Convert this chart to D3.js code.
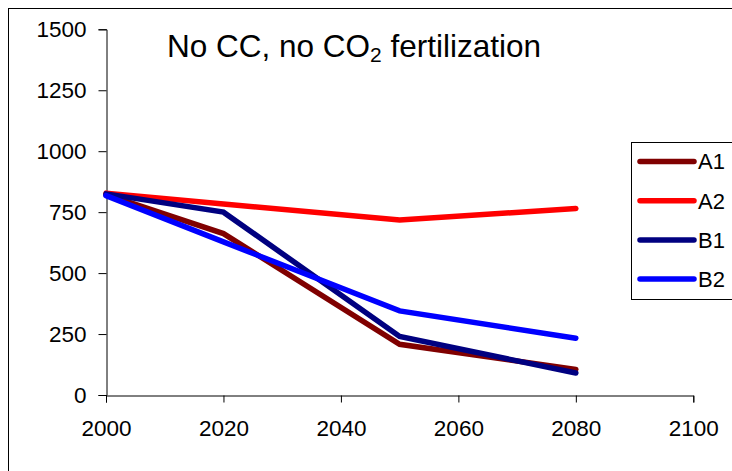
<!DOCTYPE html>
<html>
<head>
<meta charset="utf-8">
<script src="https://cdn.jsdelivr.net/npm/d3@7"></script>
<style>
  html, body { margin: 0; padding: 0; background: #fff; }
  svg { display: block; }
  text { font-family: "Liberation Sans", Arial, sans-serif; fill: #000; }
</style>
</head>
<body>
<svg id="chart" width="732" height="471"></svg>
<script>
const years = [2000, 2020, 2050, 2080];
const seriesNames = ["A1", "A2", "B1", "B2"];
const seriesColors = ["#800000", "#ff0000", "#000080", "#0000ff"];
const A1 = [822, 662, 208, 105];
const A2 = [828, 783, 718, 765];
const B1 = [825, 750, 240, 90];
const B2 = [818, 628, 345, 233];
const xTicks = [2000, 2020, 2040, 2060, 2080, 2100];
const yTicks = [0, 250, 500, 750, 1000, 1250, 1500];
const title = "No CC, no CO";
const titleSub = "2";
const titleEnd = " fertilization";

const svg = d3.select("#chart");
const x = d3.scaleLinear().domain([2000, 2100]).range([106, 693.3]);
const y = d3.scaleLinear().domain([0, 1500]).range([395, 29.3]);

// outer frame
svg.append("rect").attr("x", 8.5).attr("y", 8.5).attr("width", 800).attr("height", 600)
  .attr("fill", "none").attr("stroke", "#000").attr("stroke-width", 1);

// y axis
const yAxis = svg.append("g").attr("transform", "translate(106.5,0)")
  .call(d3.axisLeft(y).tickValues(yTicks).tickSize(8).tickPadding(12).tickFormat(d3.format("d")));
yAxis.select(".domain").attr("stroke", "#000");
yAxis.selectAll("text").style("font-size", "22.5px").attr("fill", "#000");

// x axis
const xAxis = svg.append("g").attr("transform", "translate(0,395.5)")
  .call(d3.axisBottom(x).tickValues(xTicks).tickSize(7).tickSizeOuter(7).tickPadding(18).tickFormat(d3.format("d")));
xAxis.selectAll("text").style("font-size", "22.5px").attr("fill", "#000");

// lines
const data = [A1, A2, B1, B2];
const line = d3.line().x((d, i) => x(years[i])).y(d => y(d));
data.forEach((vals, k) => {
  svg.append("path").datum(vals).attr("d", line)
    .attr("fill", "none").attr("stroke", seriesColors[k]).attr("stroke-width", 5.5)
    .attr("stroke-linecap", "round").attr("stroke-linejoin", "miter");
});

// title
const t = svg.append("text").attr("x", 167).attr("y", 57).style("font-size", "31.5px");
t.append("tspan").text(title);
t.append("tspan").attr("dy", 5).style("font-size", "21px").text(titleSub);
t.append("tspan").attr("dy", -5).text(titleEnd);

// legend
const lg = svg.append("g");
lg.append("rect").attr("x", 631.5).attr("y", 142.5).attr("width", 200).attr("height", 157)
  .attr("fill", "#fff").attr("stroke", "#000").attr("stroke-width", 1);
seriesNames.forEach((name, k) => {
  const ly = 161.5 + k * 39.2;
  lg.append("line").attr("x1", 640).attr("x2", 694).attr("y1", ly).attr("y2", ly)
    .attr("stroke", seriesColors[k]).attr("stroke-width", 5.5).attr("stroke-linecap", "round");
  lg.append("text").attr("x", 698).attr("y", ly).attr("dy", "0.36em").style("font-size", "22px").text(name);
});
</script>
</body>
</html>
